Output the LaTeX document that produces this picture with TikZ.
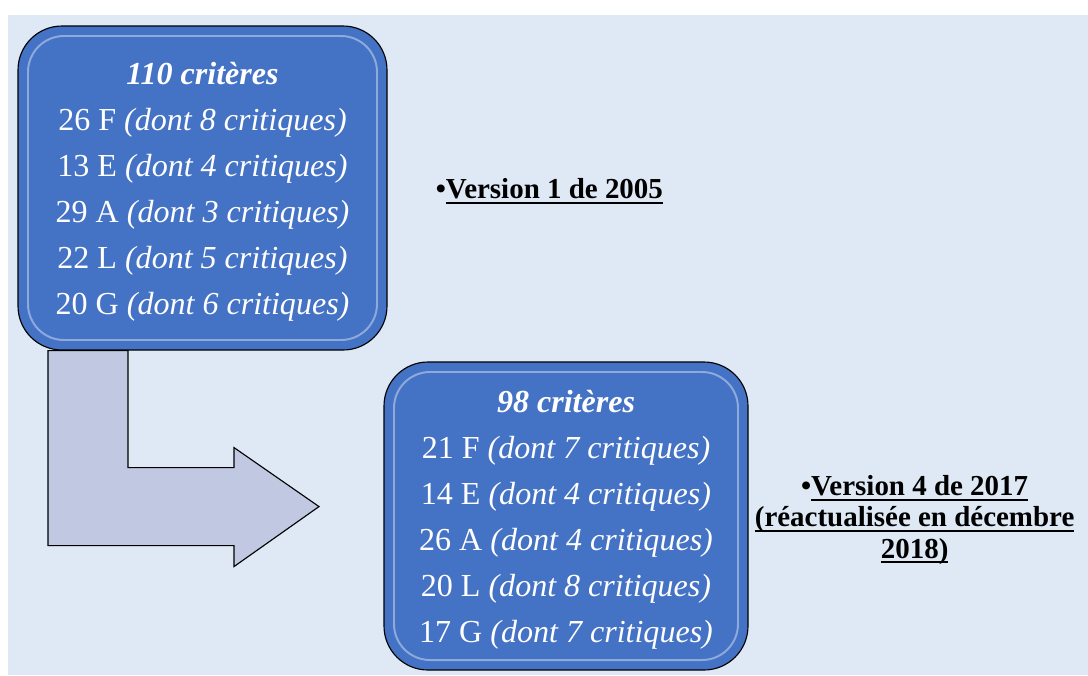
\documentclass[tikz,border=0pt]{standalone}
\usepackage{fontspec}
\setmainfont{Liberation Serif}
\usetikzlibrary{positioning}
\definecolor{pageblue}{RGB}{222,233,245}
\definecolor{boxblue}{RGB}{68,114,196}
\definecolor{arrowgrey}{RGB}{192,200,226}
\newcommand{\uln}[1]{\setbox0\hbox{#1}\rlap{\rule[-3.4pt]{\wd0}{1.2pt}}\box0}

\begin{document}
\begin{tikzpicture}[
    box/.style={rectangle, rounded corners=1.1cm, draw=black, thick, fill=boxblue, text=white, align=center, text depth=0pt, font=\fontsize{22.8}{32.7}\selectfont,
        path picture={\draw[white, opacity=0.4, line width=1.4pt, rounded corners=0.9cm] ([shift={(0.25,-0.25)}]path picture bounding box.north west) rectangle ([shift={(-0.25,0.25)}]path picture bounding box.south east);}},
    version/.style={align=center, inner sep=0pt, font=\fontsize{20.6}{22.2}\selectfont\bfseries},
    bigarrow/.style={draw=black, thick, fill=arrowgrey, line join=miter}
]
    % Background
    \useasboundingbox (0,0) rectangle (27.2,-16.875);
    \fill[pageblue] (0.2,-0.375) rectangle (27.2,-16.875);

    % Version 1
    \node[box, minimum width=9.225cm, minimum height=8.1cm] (v1) at (5.0625,-4.7) {%
        \textbf{\textit{110 critères}}\\
        26 F \textit{(dont 8 critiques)}\\
        13 E \textit{(dont 4 critiques)}\\
        29 A \textit{(dont 3 critiques)}\\
        22 L \textit{(dont 5 critiques)}\\
        20 G \textit{(dont 6 critiques)}};
    \node[version, right=1.2cm of v1, yshift=-0.08cm] (v1label) {\textbullet\uln{Version 1 de 2005}};

    % Version 4
    \node[box, minimum width=9.1cm, minimum height=7.7cm] (v4) at (14.15,-12.9) {%
        \textbf{\textit{98 critères}}\\
        21 F \textit{(dont 7 critiques)}\\
        14 E \textit{(dont 4 critiques)}\\
        26 A \textit{(dont 4 critiques)}\\
        20 L \textit{(dont 8 critiques)}\\
        17 G \textit{(dont 7 critiques)}};
    \node[version, right=0.15cm of v4, yshift=-0.1cm] (v4label) {\textbullet\uln{Version 4 de 2017}\\
        \uln{(réactualisée en décembre}\\
        \uln{2018)}};

    % Bent arrow
    \coordinate (start) at (v1.south -| 1.2,0);
    \draw[bigarrow] (start) -- ++(2,0) -- ++(0,-2.925) -- ++(2.65,0) -- ++(0,0.5)
        -- ++(2.125,-1.475) -- ++(-2.125,-1.5) -- ++(0,0.525) -- ++(-4.65,0) -- cycle;
\end{tikzpicture}
\end{document}
